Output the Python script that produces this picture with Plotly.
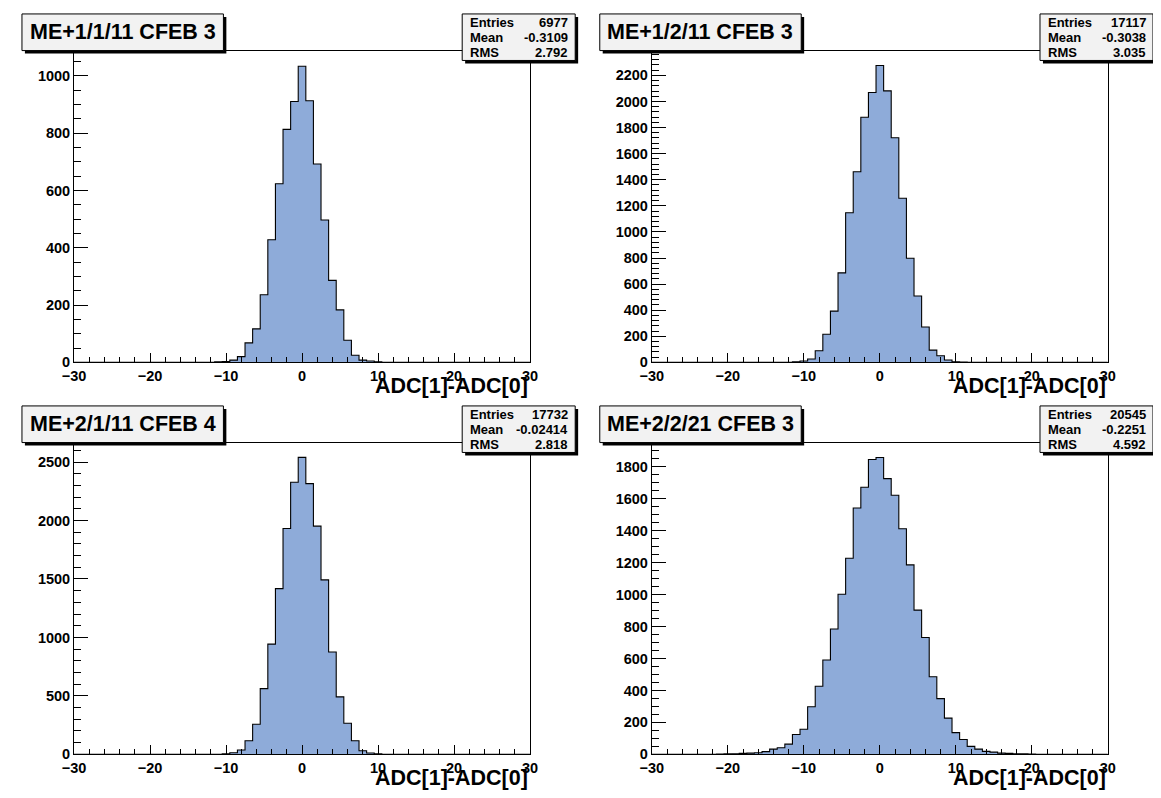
import plotly.graph_objects as go

# page body has an 8px default margin: work in reference-pixel coordinates and shift
OX, OY = 8, 8
FW, FH = 1153, 790

# ---------------- data ----------------
titles = ["ME+1/1/11 CFEB 3", "ME+1/2/11 CFEB 3", "ME+2/1/11 CFEB 4", "ME+2/2/21 CFEB 3"]
entries = ["6977", "17117", "17732", "20545"]
means = ["-0.3109", "-0.3038", "-0.02414", "-0.2251"]
rms = ["2.792", "3.035", "2.818", "4.592"]
x_title = "ADC[1]-ADC[0]"

# bin centres (integers) and counts
centres_1 = list(range(-11, 11))
counts_1 = [2, 3, 8, 20, 68, 117, 236, 428, 623, 813, 910, 1033, 913, 692, 497, 286, 183, 77, 25, 8, 5, 2]

centres_2 = list(range(-11, 12))
counts_2 = [4, 10, 26, 89, 216, 393, 686, 1147, 1461, 1879, 2069, 2276, 2081, 1722, 1258, 798, 509, 271, 94, 51, 18, 5, 2]

centres_3 = list(range(-10, 11))
counts_3 = [4, 14, 37, 116, 257, 562, 943, 1418, 1932, 2328, 2540, 2316, 1952, 1492, 876, 492, 266, 116, 31, 12, 4]

centres_4 = list(range(-21, 21))
counts_4 = [2, 3, 4, 6, 8, 10, 17, 33, 41, 64, 124, 157, 298, 426, 591, 785, 1002, 1228, 1542, 1672, 1846,
            1858, 1726, 1622, 1412, 1186, 903, 732, 486, 349, 227, 136, 93, 50, 33, 19, 14, 8, 6, 4, 3, 2]

y_max = [1088, 2390, 2667, 1952]
y_dtick = [200, 200, 500, 200]
y_minor = [50, 40, 100, 50]

x_ticks = [-30, -20, -10, 0, 10, 20, 30]
x_range = [-30, 30]

all_centres = [centres_1, centres_2, centres_3, centres_4]
all_counts = [counts_1, counts_2, counts_3, counts_4]

# ---------------- layout geometry (reference pixels) ----------------
frames = [  # left, right, top, bottom
    (63, 527, 51, 366),
    (651, 1115, 51, 366),
    (63, 527, 447, 762),
    (651, 1115, 447, 762),
]

def px(x):
    return (x - OX) / FW

def py(y):
    return 1 - (y - OY) / FH

FILL = "#8eabd9"
FONT = "Liberation Sans"

fig = go.Figure()
shapes = []
annotations = []

for i in range(4):
    k = "" if i == 0 else str(i + 1)
    xa, ya = "x" + k, "y" + k
    c = all_centres[i]
    v = all_counts[i]
    xs = [x_range[0]] + [cc - 0.5 for cc in c] + [c[-1] + 0.5, x_range[1]]
    ys = [0] + list(v) + [0, 0]
    fig.add_trace(go.Scatter(
        x=xs, y=ys, mode="lines", line=dict(shape="hv", color="black", width=1.1),
        fill="tozeroy", fillcolor=FILL, xaxis=xa, yaxis=ya, showlegend=False,
        hoverinfo="skip"))

    l, r, t, b = frames[i]
    axfont = dict(family=FONT, size=14.5, color="black", weight="bold")
    fig.update_layout(**{
        "xaxis" + k: dict(
            domain=[px(l), px(r)], anchor=ya, range=x_range, tickvals=x_ticks,
            ticks="inside", ticklen=9, tickwidth=1, tickcolor="black",
            minor=dict(dtick=2, ticklen=5, ticks="inside", tickcolor="black", tickwidth=1),
            showline=True, mirror=True, linecolor="black", linewidth=1,
            showgrid=False, zeroline=False, tickfont=axfont, fixedrange=True),
        "yaxis" + k: dict(
            domain=[py(b), py(t)], anchor=xa, range=[0, y_max[i]], dtick=y_dtick[i], tick0=0,
            ticks="inside", ticklen=14, tickwidth=1, tickcolor="black",
            minor=dict(dtick=y_minor[i], ticklen=7, ticks="inside", tickcolor="black", tickwidth=1),
            showline=True, mirror=True, linecolor="black", linewidth=1,
            showgrid=False, zeroline=False, tickfont=axfont, fixedrange=True),
    })

    # x-axis title
    annotations.append(dict(
        x=px(r), y=py(b + 24), xref="paper", yref="paper", xanchor="right", yanchor="middle",
        text=x_title, showarrow=False,
        font=dict(family=FONT, size=21.5, color="black", weight="bold")))

    # title box
    tl, tr, tt, tb = l - 53, l + 152, t - 37, t
    shapes.append(dict(type="rect", xref="paper", yref="paper",
                       x0=px(tl + 3), x1=px(tr + 3), y0=py(tb + 3), y1=py(tt + 3),
                       fillcolor="black", line=dict(width=0)))
    shapes.append(dict(type="rect", xref="paper", yref="paper",
                       x0=px(tl), x1=px(tr), y0=py(tb), y1=py(tt),
                       fillcolor="#f2f2f2", line=dict(color="black", width=1)))
    annotations.append(dict(
        x=px((tl + tr) / 2), y=py((tt + tb) / 2), xref="paper", yref="paper",
        xanchor="center", yanchor="middle", text=titles[i], showarrow=False,
        font=dict(family=FONT, size=21.5, color="black", weight="bold")))

    # stats box
    sl, sr, st, sb = r - 69, r + 46, t - 37, t + 10
    shapes.append(dict(type="rect", xref="paper", yref="paper",
                       x0=px(sl + 3), x1=px(sr + 3), y0=py(sb + 3), y1=py(st + 3),
                       fillcolor="black", line=dict(width=0)))
    shapes.append(dict(type="rect", xref="paper", yref="paper",
                       x0=px(sl), x1=px(sr), y0=py(sb), y1=py(st),
                       fillcolor="#f2f2f2", line=dict(color="black", width=1)))
    rows = [("Entries", entries[i]), ("Mean", means[i]), ("RMS", rms[i])]
    for j, (lab, val) in enumerate(rows):
        yy = st + 8.5 + j * 15.2
        sfont = dict(family=FONT, size=13, color="black", weight="bold")
        annotations.append(dict(x=px(sl + 6), y=py(yy), xref="paper", yref="paper",
                                xanchor="left", yanchor="middle", text=lab,
                                showarrow=False, font=sfont))
        annotations.append(dict(x=px(sr - 5), y=py(yy), xref="paper", yref="paper",
                                xanchor="right", yanchor="middle", text=val,
                                showarrow=False, font=sfont))

fig.update_layout(
    width=FW, height=FH, margin=dict(l=0, r=0, t=0, b=0),
    paper_bgcolor="white", plot_bgcolor="white",
    shapes=shapes, annotations=annotations, showlegend=False,
)

fig.write_html("out.html")
